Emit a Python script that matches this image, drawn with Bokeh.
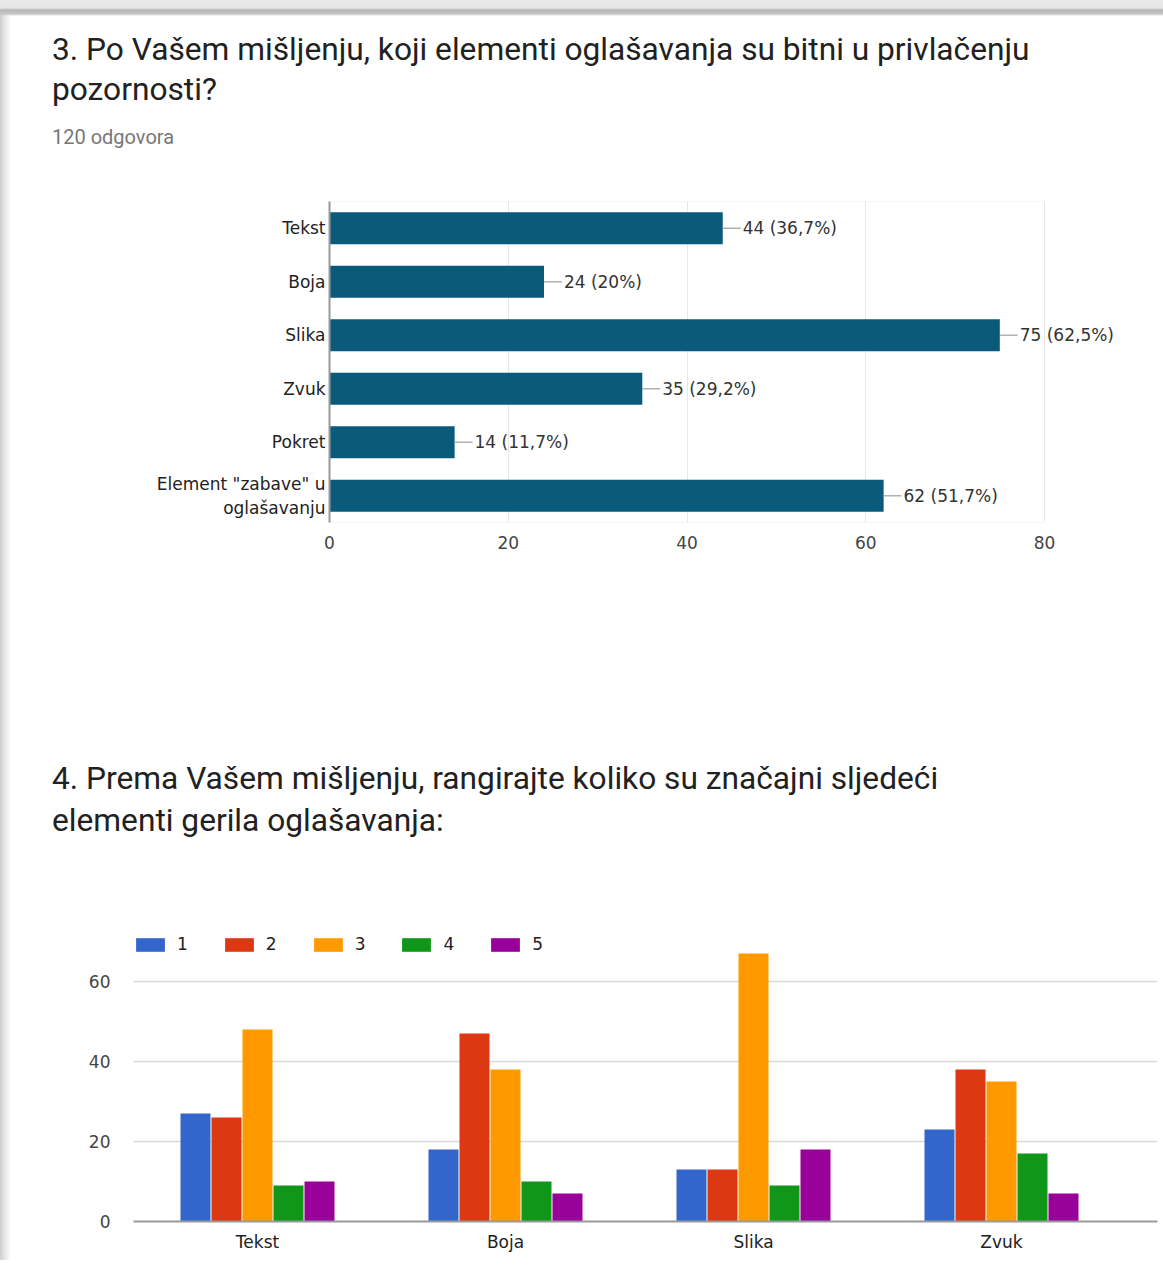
from bokeh.plotting import figure
from bokeh.models import Range1d, Div, Legend, LegendItem, FixedTicker, ColumnDataSource
from bokeh.transform import dodge
from bokeh.embed import file_html
from bokeh.resources import INLINE
from bokeh.core.properties import value

# ---------------- data ----------------
q3_title_line1 = "3. Po Vašem mišljenju, koji elementi oglašavanja su bitni u privlačenju"
q3_title_line2 = "pozornosti?"
q3_subtitle = "120 odgovora"
q3_categories = ["Tekst", "Boja", "Slika", "Zvuk", "Pokret", 'Element "zabave" u\noglašavanju']
q3_counts = [44, 24, 75, 35, 14, 62]
q3_total = 120
q3_ticks = [0, 20, 40, 60, 80]

q4_title_line1 = "4. Prema Vašem mišljenju, rangirajte koliko su značajni sljedeći"
q4_title_line2 = "elementi gerila oglašavanja:"
q4_categories = ["Tekst", "Boja", "Slika", "Zvuk"]
q4_ranks = ["1", "2", "3", "4", "5"]
q4_rank1 = [27, 18, 13, 23]
q4_rank2 = [26, 47, 13, 38]
q4_rank3 = [48, 38, 67, 35]
q4_rank4 = [9, 10, 9, 17]
q4_rank5 = [10, 7, 18, 7]
q4_ticks = [0, 20, 40, 60]
q4_colors = ["#3366cc", "#dc3912", "#ff9900", "#109618", "#990099"]

FONT = "DejaVu Sans"
FS = "17px"
W = 1163
LEFT_SHADOW = "linear-gradient(to right, #cdcdcd 0px, #e2e2e2 4px, #f3f3f3 8px, #ffffff 11px)"

# ---------------- heading 1 ----------------
div1 = Div(
    text=(
        f'<div style="font-family:Roboto;font-size:31.7px;line-height:40px;color:#212121;'
        f'padding:30px 0 0 52px;white-space:nowrap">{q3_title_line1}<br>{q3_title_line2}</div>'
        f'<div style="font-family:Roboto;font-size:20px;line-height:24px;color:#777777;'
        f'padding:15px 0 0 52px;white-space:nowrap">{q3_subtitle}</div>'
    ),
    width=W, height=160, margin=0,
    styles={"background": "linear-gradient(to bottom, #e9e9e9 0px, #e6e6e6 8px, #b6b6b6 10px, "
                           "#c6c6c6 14px, rgba(255,255,255,0) 16px), " + LEFT_SHADOW},
)

# ---------------- chart 1 ----------------
def pct_label(v, total):
    p = round(v / total * 100, 1)
    s = f"{p:.1f}".replace(".", ",")
    if s.endswith(",0"):
        s = s[:-2]
    return f"{v} ({s}%)"

n3 = len(q3_categories)
ypos = [n3 - 1 - i for i in range(n3)]
src1 = ColumnDataSource(dict(
    y=ypos,
    count=q3_counts,
    lead_end=[v + 2.0 for v in q3_counts],
    label=[pct_label(v, q3_total) for v in q3_counts],
))

x_max = q3_ticks[-1]
p1 = figure(width=W, height=440, output_backend="svg", toolbar_location=None,
            y_range=Range1d(-0.5, n3 - 0.5),
            x_range=Range1d(0, x_max * 834 / 715),
            min_border_left=329, min_border_right=0, min_border_top=41, min_border_bottom=78,
            styles={"background": LEFT_SHADOW})
# frame border (top / bottom) limited to the axis extent
p1.segment(x0=[0, 0], x1=[x_max, x_max], y0=[-0.5, n3 - 0.5], y1=[-0.5, n3 - 0.5],
           line_color="#ececec", line_width=1)
p1.hbar(y="y", left=0, right="count", height=0.6, source=src1,
        fill_color="#0a5a7b", line_color=None)
p1.segment(x0="count", x1="lead_end", y0="y", y1="y", source=src1,
           line_color="#b0b0b0", line_width=1.5)
p1.text(x="lead_end", y="y", text="label", source=src1, x_offset=2,
        text_align="left", text_baseline="middle",
        text_font=value(FONT), text_font_size=FS, text_color="#333333")

p1.xaxis.ticker = FixedTicker(ticks=q3_ticks)
p1.xgrid.ticker = FixedTicker(ticks=q3_ticks)
p1.xgrid.grid_line_color = "#e6e6e6"
p1.ygrid.grid_line_color = None
p1.xaxis.axis_line_color = None
p1.xaxis.major_tick_line_color = None
p1.xaxis.minor_tick_line_color = None
p1.xaxis.major_tick_out = 0
p1.xaxis.major_tick_in = 0
p1.xaxis.major_label_standoff = 13
p1.xaxis.major_label_text_font = FONT
p1.xaxis.major_label_text_font_size = FS
p1.xaxis.major_label_text_color = "#444444"
p1.yaxis.ticker = FixedTicker(ticks=ypos)
p1.yaxis.major_label_overrides = {y: c for y, c in zip(ypos, q3_categories)}
p1.yaxis.axis_line_color = "#999999"
p1.yaxis.axis_line_width = 2
p1.yaxis.major_tick_line_color = None
p1.yaxis.minor_tick_line_color = None
p1.yaxis.major_tick_out = 0
p1.yaxis.major_tick_in = 0
p1.yaxis.major_label_standoff = 4
p1.yaxis.major_label_text_font = FONT
p1.yaxis.major_label_text_font_size = FS
p1.yaxis.major_label_text_color = "#222222"
p1.outline_line_color = None
p1.background_fill_color = "white"
p1.border_fill_alpha = 0

# ---------------- heading 2 ----------------
div2 = Div(
    text=(
        f'<div style="font-family:Roboto;font-size:31.7px;line-height:42px;color:#212121;'
        f'padding:158px 0 0 52px;white-space:nowrap">{q4_title_line1}<br>{q4_title_line2}</div>'
    ),
    width=W, height=300, margin=0,
    styles={"background": LEFT_SHADOW},
)

# ---------------- chart 2 ----------------
src2 = ColumnDataSource(dict(
    x=list(range(len(q4_categories))),
    r1=q4_rank1, r2=q4_rank2, r3=q4_rank3, r4=q4_rank4, r5=q4_rank5,
))

p2 = figure(width=W, height=360, output_backend="svg", toolbar_location=None,
            x_range=Range1d(-0.5, -0.5 + 1024 / 248), y_range=Range1d(0, 74),
            min_border_left=133, min_border_right=6, min_border_top=25, min_border_bottom=39,
            styles={"background": LEFT_SHADOW})

items = []
for i, (col, color, name) in enumerate(zip(["r1", "r2", "r3", "r4", "r5"], q4_colors, q4_ranks)):
    r = p2.vbar(x=dodge("x", (i - 2) * 0.125), top=col, width=0.121, bottom=0,
                source=src2, fill_color=color, line_color=None)
    items.append(LegendItem(label=name, renderers=[r]))

legend = Legend(items=items, orientation="horizontal", location=(-1, 267),
                glyph_width=36, glyph_height=17, label_standoff=9, spacing=33,
                label_width=8, label_height=17, padding=0, margin=0,
                border_line_color=None, background_fill_alpha=0,
                label_text_font=FONT, label_text_font_size=FS,
                label_text_color="#222222")
p2.add_layout(legend)

p2.yaxis.ticker = FixedTicker(ticks=q4_ticks)
p2.ygrid.ticker = FixedTicker(ticks=q4_ticks)
p2.ygrid.grid_line_color = "#d9d9d9"
p2.ygrid.grid_line_width = 1.5
p2.xgrid.grid_line_color = None
p2.yaxis.axis_line_color = None
p2.yaxis.major_tick_line_color = None
p2.yaxis.minor_tick_line_color = None
p2.yaxis.major_tick_out = 0
p2.yaxis.major_tick_in = 0
p2.yaxis.major_label_standoff = 23
p2.yaxis.major_label_text_font = FONT
p2.yaxis.major_label_text_font_size = FS
p2.yaxis.major_label_text_color = "#444444"

p2.xaxis.ticker = FixedTicker(ticks=list(range(len(q4_categories))))
p2.xaxis.major_label_overrides = {i: c for i, c in enumerate(q4_categories)}
p2.xaxis.axis_line_color = "#999999"
p2.xaxis.axis_line_width = 2
p2.xaxis.major_tick_line_color = None
p2.xaxis.minor_tick_line_color = None
p2.xaxis.major_tick_out = 0
p2.xaxis.major_tick_in = 0
p2.xaxis.major_label_standoff = 10
p2.xaxis.major_label_text_font = FONT
p2.xaxis.major_label_text_font_size = FS
p2.xaxis.major_label_text_color = "#222222"
p2.outline_line_color = None
p2.background_fill_color = "white"
p2.border_fill_alpha = 0

with open("out.html", "w") as f:
    f.write(file_html([div1, p1, div2, p2], INLINE))
